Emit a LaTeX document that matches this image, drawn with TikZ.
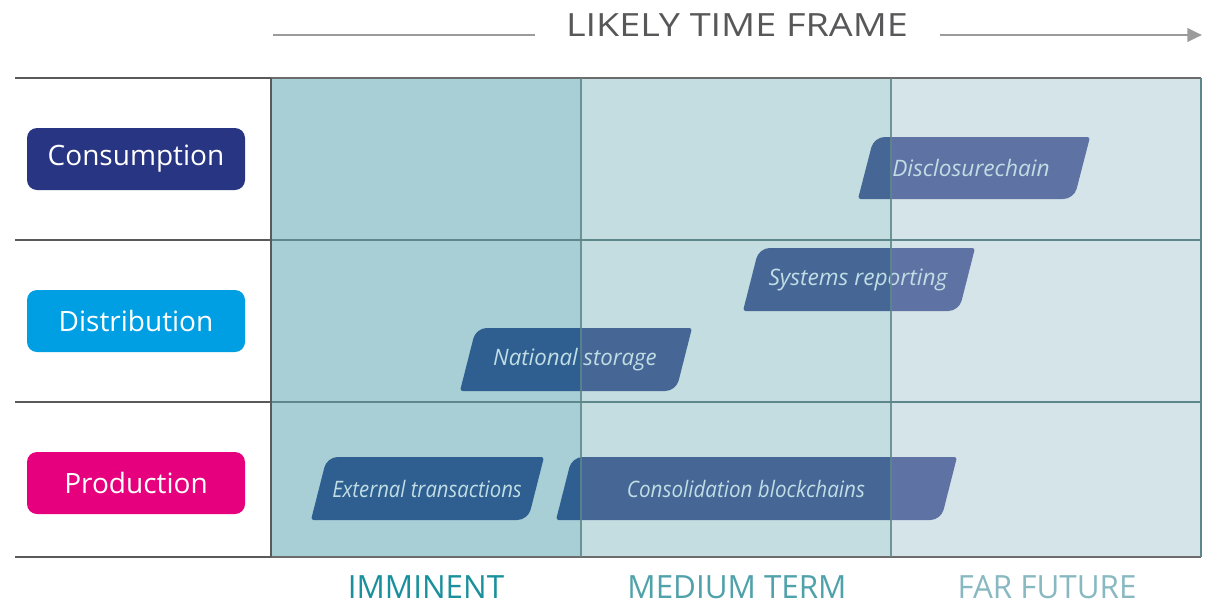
\documentclass[tikz,border=0pt]{standalone}
\usepackage{fontspec}
\setmainfont{Open Sans}
\usetikzlibrary{arrows.meta}

% column and bar palette
\definecolor{colImm}{HTML}{A7CFD5}
\definecolor{colMed}{HTML}{C4DDE1}
\definecolor{colFar}{HTML}{D5E4E8}
\definecolor{barImm}{HTML}{2E5F90}
\definecolor{barMed}{HTML}{466796}
\definecolor{barFar}{HTML}{5E73A4}
\definecolor{barText}{HTML}{C0DDE4}
\definecolor{gridDark}{HTML}{5A5A5A}
\definecolor{gridTeal}{HTML}{5E878C}
\definecolor{consumption}{HTML}{283583}
\definecolor{distribution}{HTML}{009FE3}
\definecolor{production}{HTML}{E6007E}
\definecolor{titleGray}{HTML}{58585A}
\definecolor{arrowGray}{HTML}{9B9B9B}
\definecolor{lblImm}{HTML}{19909B}
\definecolor{lblMed}{HTML}{4FA1AA}
\definecolor{lblFar}{HTML}{88B9C1}

\tikzset{
  rowlabel/.style={rounded corners=7.5pt, minimum width=163.5pt, minimum height=46.5pt,
    text=white, font=\fontsize{21}{25}\selectfont, inner sep=0pt},
  bartext/.style={text=barText, font=\itshape\fontsize{17}{20}\selectfont, inner sep=0pt},
  framelabel/.style={font=\fontsize{24}{28}\selectfont, inner sep=0pt},
  gridline/.style={line width=1.1pt},
}

% a slanted bar, coloured per column it crosses
% #1 name, #2 left x, #3 right x, #4 top y, #5 bottom y,
% #6 text centre x, #7 horizontal squeeze, #8 text
\newcommand{\tfbar}[8]{%
  \foreach \cx/\cxx/\cc in {271/581/barImm,581/891/barMed,891/1201/barFar}{%
    \begin{scope}
      \clip (\cx,#4-3) rectangle (\cxx,#5+3);
      \fill[\cc] ({(#2+#3)/2},#5) [rounded corners=2pt] -- (#2,#5)
        [rounded corners=8pt] -- (#2+16,#4)
        [rounded corners=2pt] -- (#3,#4)
        [rounded corners=8pt] -- (#3-16,#5)
        [rounded corners=2pt] -- cycle;
    \end{scope}}%
  \node[bartext] (#1) at (#6,{(#4+#5)/2}) {\scalebox{#7}[1]{#8}};
}

\begin{document}
\begin{tikzpicture}[x=0.75pt,y=-0.75pt]
\useasboundingbox (0,0) rectangle (1205,604);

% time-frame columns
\fill[colImm] (271,78) rectangle (581,557);
\fill[colMed] (581,78) rectangle (891,557);
\fill[colFar] (891,78) rectangle (1201,557);

% horizontal rules
\foreach \yy in {78,240,402,557}
  \draw[gridline, gridDark] (15,\yy) -- (271,\yy);
\foreach \yy in {240,402}
  \draw[gridline, gridTeal] (271,\yy) -- (1201,\yy);
\draw[gridline, gray!85!black] (271,78) -- (1201,78);
\draw[gridline, gray!85!black] (271,557) -- (1201,557);
\draw[gridline, gridDark] (271,78) -- (271,557);
\draw[gridline, gridTeal] (1201,78) -- (1201,557);

% bars
\tfbar{disclosure}{858}{1090}{137}{199}{971}{1}{Disclosurechain}
\tfbar{systems}{743}{975}{248}{311}{858}{1}{Systems reporting}
\tfbar{national}{460}{692}{328}{391}{575}{0.98}{National storage}
\tfbar{external}{311}{544}{457}{520}{427}{0.895}{External transactions}
\tfbar{consolidation}{556}{957}{457}{520}{746}{0.91}{Consolidation blockchains}

% column dividers, seen through the bars
\draw[gridline, gridTeal, opacity=0.85] (581,78) -- (581,557);
\draw[gridline, gridTeal, opacity=0.85] (891,78) -- (891,557);

% row labels
\node[rowlabel, fill=consumption] (consumption) at (136,159) {Consumption};
\node[rowlabel, fill=distribution] (distributionlbl) at (136,321) {Distribution};
\node[rowlabel, fill=production] (productionlbl) at (136,483) {Production};

% heading with time arrow
\node[framelabel, text=titleGray] (title) at (737,25) {\scalebox{1.18}[1]{LIKELY TIME FRAME}};
\coordinate (arrL1) at (273,35);
\coordinate (arrL2) at (535,35);
\coordinate (arrR1) at (940,35);
\coordinate (arrR2) at (1202,35);
\draw[arrowGray, line width=2.2pt] (arrL1) -- (arrL2);
\draw[arrowGray, line width=2.2pt, -{Triangle[length=11pt,width=10pt]}] (arrR1) -- (arrR2);

% column captions
\node[framelabel, text=lblImm] (imminent) at (426,587) {\scalebox{0.98}[1]{IMMINENT}};
\node[framelabel, text=lblMed] (medium) at (737,587) {\scalebox{0.98}[1]{MEDIUM TERM}};
\node[framelabel, text=lblFar] (far) at (1047,587) {\scalebox{0.98}[1]{FAR FUTURE}};
\end{tikzpicture}
\end{document}
